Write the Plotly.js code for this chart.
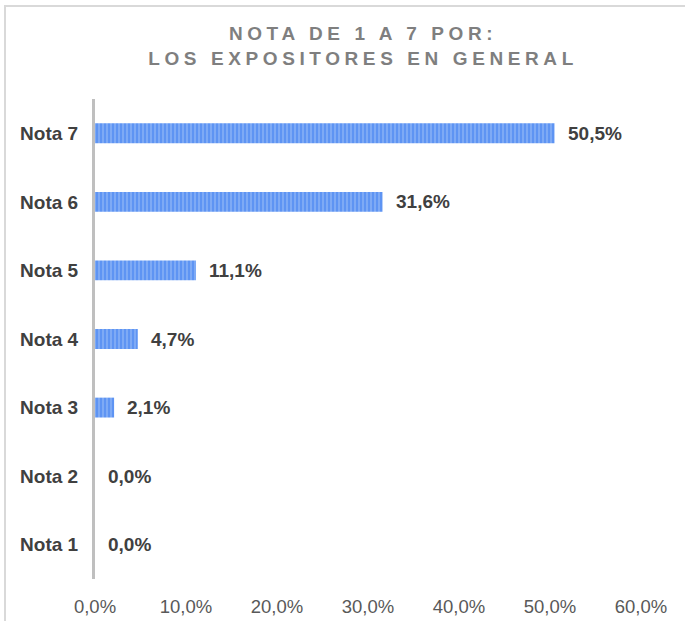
<!DOCTYPE html>
<html>
<head>
<meta charset="utf-8">
<script src="https://cdn.plot.ly/plotly-3.0.1.min.js"></script>
<style>
html,body{margin:0;padding:0;background:#fff;}
#frame{position:absolute;left:4px;top:5px;width:700px;height:640px;border-left:2px solid #d9d9d9;border-top:2px solid #d9d9d9;box-sizing:border-box;}
#chart{position:absolute;left:0;top:0;width:685px;height:621px;}
.gtitle{letter-spacing:4.6px;}
</style>
</head>
<body>
<div id="frame"></div>
<div id="chart"></div>
<script>
const categories = ["Nota 1","Nota 2","Nota 3","Nota 4","Nota 5","Nota 6","Nota 7"];
const values = [0.0, 0.0, 2.1, 4.7, 11.1, 31.6, 50.5];
const tickVals = [0,10,20,30,40,50,60];
const tickText = ["0,0%","10,0%","20,0%","30,0%","40,0%","50,0%","60,0%"];
const labels = values.map(v => v.toFixed(1).replace('.', ',') + '%');

const FONT = 'Liberation Sans, Arial, sans-serif';

const trace = {
  type: 'bar',
  orientation: 'h',
  y: categories,
  x: values,
  marker: {
    color: '#7eaaf5',
    line: {width: 0},
    pattern: {shape: '|', fgcolor: '#3577ef', bgcolor: '#86b0f6', size: 4, solidity: 0.6, fillmode: 'overlay'}
  },
  hoverinfo: 'none'
};

const annotations = values.map((v, i) => ({
  x: v, y: categories[i], xref: 'x', yref: 'y',
  text: labels[i], showarrow: false,
  xanchor: 'left', yanchor: 'middle', xshift: 11,
  font: {family: FONT, size: 19, color: '#404040', weight: 'bold'}
}));

const layout = {
  width: 685, height: 621,
  paper_bgcolor: 'rgba(0,0,0,0)',
  plot_bgcolor: 'rgba(0,0,0,0)',
  margin: {l: 95, r: 44, t: 99, b: 42},
  bargap: 0.71,
  showlegend: false,
  annotations: annotations,
  title: {
    text: 'NOTA DE 1 A 7 POR:<br>LOS EXPOSITORES EN GENERAL',
    font: {family: FONT, size: 19, color: '#7f7f7f', weight: 'bold'},
    x: 0.530, xanchor: 'center', y: 0.935, yanchor: 'top'
  },
  xaxis: {
    range: [0, 60],
    tickvals: tickVals,
    ticktext: tickText,
    showgrid: false,
    zeroline: false,
    showline: false,
    ticks: '',
    ticklabelstandoff: 14,
    tickfont: {family: FONT, size: 18.5, color: '#595959'},
    fixedrange: true
  },
  yaxis: {
    showline: true,
    linecolor: '#bfbfbf',
    linewidth: 3,
    showgrid: false,
    zeroline: false,
    ticks: '',
    ticklabelstandoff: 10,
    tickfont: {family: FONT, size: 19, color: '#404040', weight: 'bold'},
    fixedrange: true
  }
};

Plotly.newPlot('chart', [trace], layout, {displayModeBar: false, staticPlot: true});
</script>
</body>
</html>
